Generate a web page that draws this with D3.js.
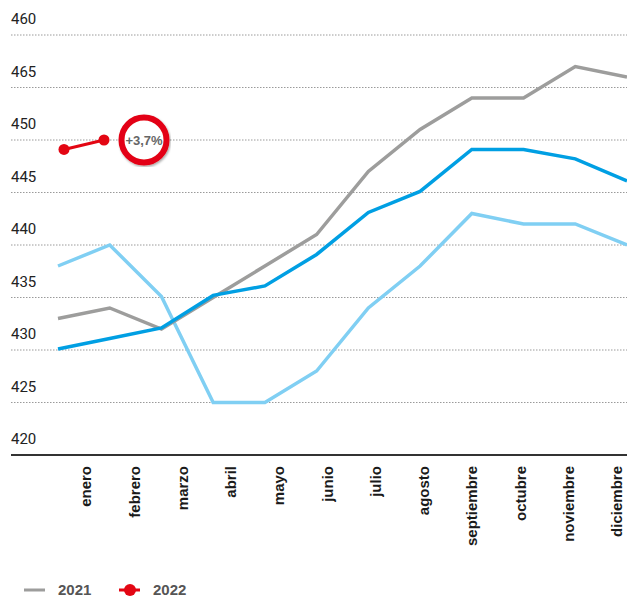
<!DOCTYPE html>
<html>
<head>
<meta charset="utf-8">
<script src="https://cdn.jsdelivr.net/npm/d3@7"></script>
<style>
  body { margin: 0; background: #fff; }
  svg { display: block; }
</style>
</head>
<body>
<div id="chart"></div>
<script>
const months = ["enero", "febrero", "marzo", "abril", "mayo", "junio", "julio",
  "agosto", "septiembre", "octubre", "noviembre", "diciembre"]
const tickValues = [460, 455, 450, 445, 440, 435, 430, 425, 420]
const tickLabels = ["460", "465", "450", "445", "440", "435", "430", "425", "420"]

const grey2021 = [433, 434, 432, 435, 438, 441, 447, 451, 454, 454, 457, 456]
const blueSeries = [430.1, 431.1, 432.1, 435.2, 436.1, 439.1, 443.1, 445.1, 449.1, 449.1, 448.2, 446.1]
const lightSeries = [438, 440, 435.1, 425, 425, 428, 434, 438, 443, 442, 442, 440]
const red2022 = [449.1, 450]
const redMonths = ["enero", "febrero"]
const badgeText = "+3,7%"

const W = 627, H = 596
const svg = d3.select("#chart").append("svg").attr("width", W).attr("height", H)

const y = d3.scaleLinear().domain([420, 460]).range([455, 35])
const x = d3.scalePoint().domain(months).range([58, 627])
const xLabel = d3.scalePoint().domain(months).range([86, 617])
const xRed = d3.scalePoint().domain(redMonths).range([64, 104])

// grid
svg.append("g").selectAll("line")
  .data(tickValues.filter(d => d !== 420))
  .join("line")
  .attr("x1", 11).attr("x2", W)
  .attr("y1", d => y(d)).attr("y2", d => y(d))
  .attr("stroke", "#9a9a9a").attr("stroke-width", 1)
  .attr("stroke-dasharray", "1.5,1.5")

svg.append("line")
  .attr("x1", 11).attr("x2", W)
  .attr("y1", y(420)).attr("y2", y(420))
  .attr("stroke", "#333").attr("stroke-width", 2)

svg.append("g").selectAll("text")
  .data(tickValues)
  .join("text")
  .attr("x", 11).attr("y", d => y(d) - 11)
  .text((d, i) => tickLabels[i])
  .attr("fill", "#222")
  .style("font-family", "Roboto, 'Liberation Sans', sans-serif")
  .style("font-size", "15px")

// month labels
svg.append("g").selectAll("text")
  .data(months)
  .join("text")
  .attr("transform", d => `translate(${xLabel(d)},466) rotate(-90)`)
  .attr("dy", "0.35em")
  .attr("text-anchor", "end")
  .text(d => d)
  .attr("fill", "#1a1a1a")
  .style("font-family", "'Liberation Sans', Arial, sans-serif")
  .style("font-weight", "bold")
  .style("font-size", "15px")

const line = d3.line().x((d, i) => x(months[i])).y(d => y(d))

svg.append("path").datum(lightSeries).attr("d", line)
  .attr("fill", "none").attr("stroke", "#80cff3").attr("stroke-width", 3.5)
svg.append("path").datum(grey2021).attr("d", line)
  .attr("fill", "none").attr("stroke", "#9d9d9c").attr("stroke-width", 3.5)
svg.append("path").datum(blueSeries).attr("d", line)
  .attr("fill", "none").attr("stroke", "#009fe3").attr("stroke-width", 3.5)

// 2022
const redLine = d3.line().x((d, i) => xRed(redMonths[i])).y(d => y(d))
svg.append("path").datum(red2022).attr("d", redLine)
  .attr("fill", "none").attr("stroke", "#e30613").attr("stroke-width", 3)
svg.append("g").selectAll("circle")
  .data(red2022)
  .join("circle")
  .attr("cx", (d, i) => xRed(redMonths[i])).attr("cy", d => y(d))
  .attr("r", 5.5).attr("fill", "#e30613")

// badge
const defs = svg.append("defs")
defs.append("filter").attr("id", "shadow")
  .append("feDropShadow").attr("dx", 1).attr("dy", 1.5).attr("stdDeviation", 1)
  .attr("flood-color", "#000").attr("flood-opacity", 0.35)

const badge = svg.append("g").attr("transform", `translate(144,${y(450)})`)
badge.append("circle").attr("r", 22.5)
  .attr("fill", "#fff").attr("stroke", "#e30613").attr("stroke-width", 6)
  .attr("filter", "url(#shadow)")
badge.append("text").attr("text-anchor", "middle").attr("dy", "0.35em")
  .text(badgeText)
  .attr("fill", "#666")
  .style("font-family", "'Liberation Sans', Arial, sans-serif")
  .style("font-weight", "bold")
  .style("font-size", "13px")

// legend
const legend = svg.append("g").attr("transform", "translate(0,590)")
legend.append("line").attr("x1", 24).attr("x2", 45)
  .attr("stroke", "#9d9d9c").attr("stroke-width", 3)
legend.append("text").attr("x", 58).attr("y", 4.5).text("2021")
  .attr("fill", "#555")
  .style("font-family", "'Liberation Sans', Arial, sans-serif")
  .style("font-weight", "bold").style("font-size", "15px")
legend.append("line").attr("x1", 119).attr("x2", 140)
  .attr("stroke", "#e30613").attr("stroke-width", 3)
legend.append("circle").attr("cx", 130).attr("r", 6).attr("fill", "#e30613")
legend.append("text").attr("x", 153).attr("y", 4.5).text("2022")
  .attr("fill", "#555")
  .style("font-family", "'Liberation Sans', Arial, sans-serif")
  .style("font-weight", "bold").style("font-size", "15px")
</script>
</body>
</html>
